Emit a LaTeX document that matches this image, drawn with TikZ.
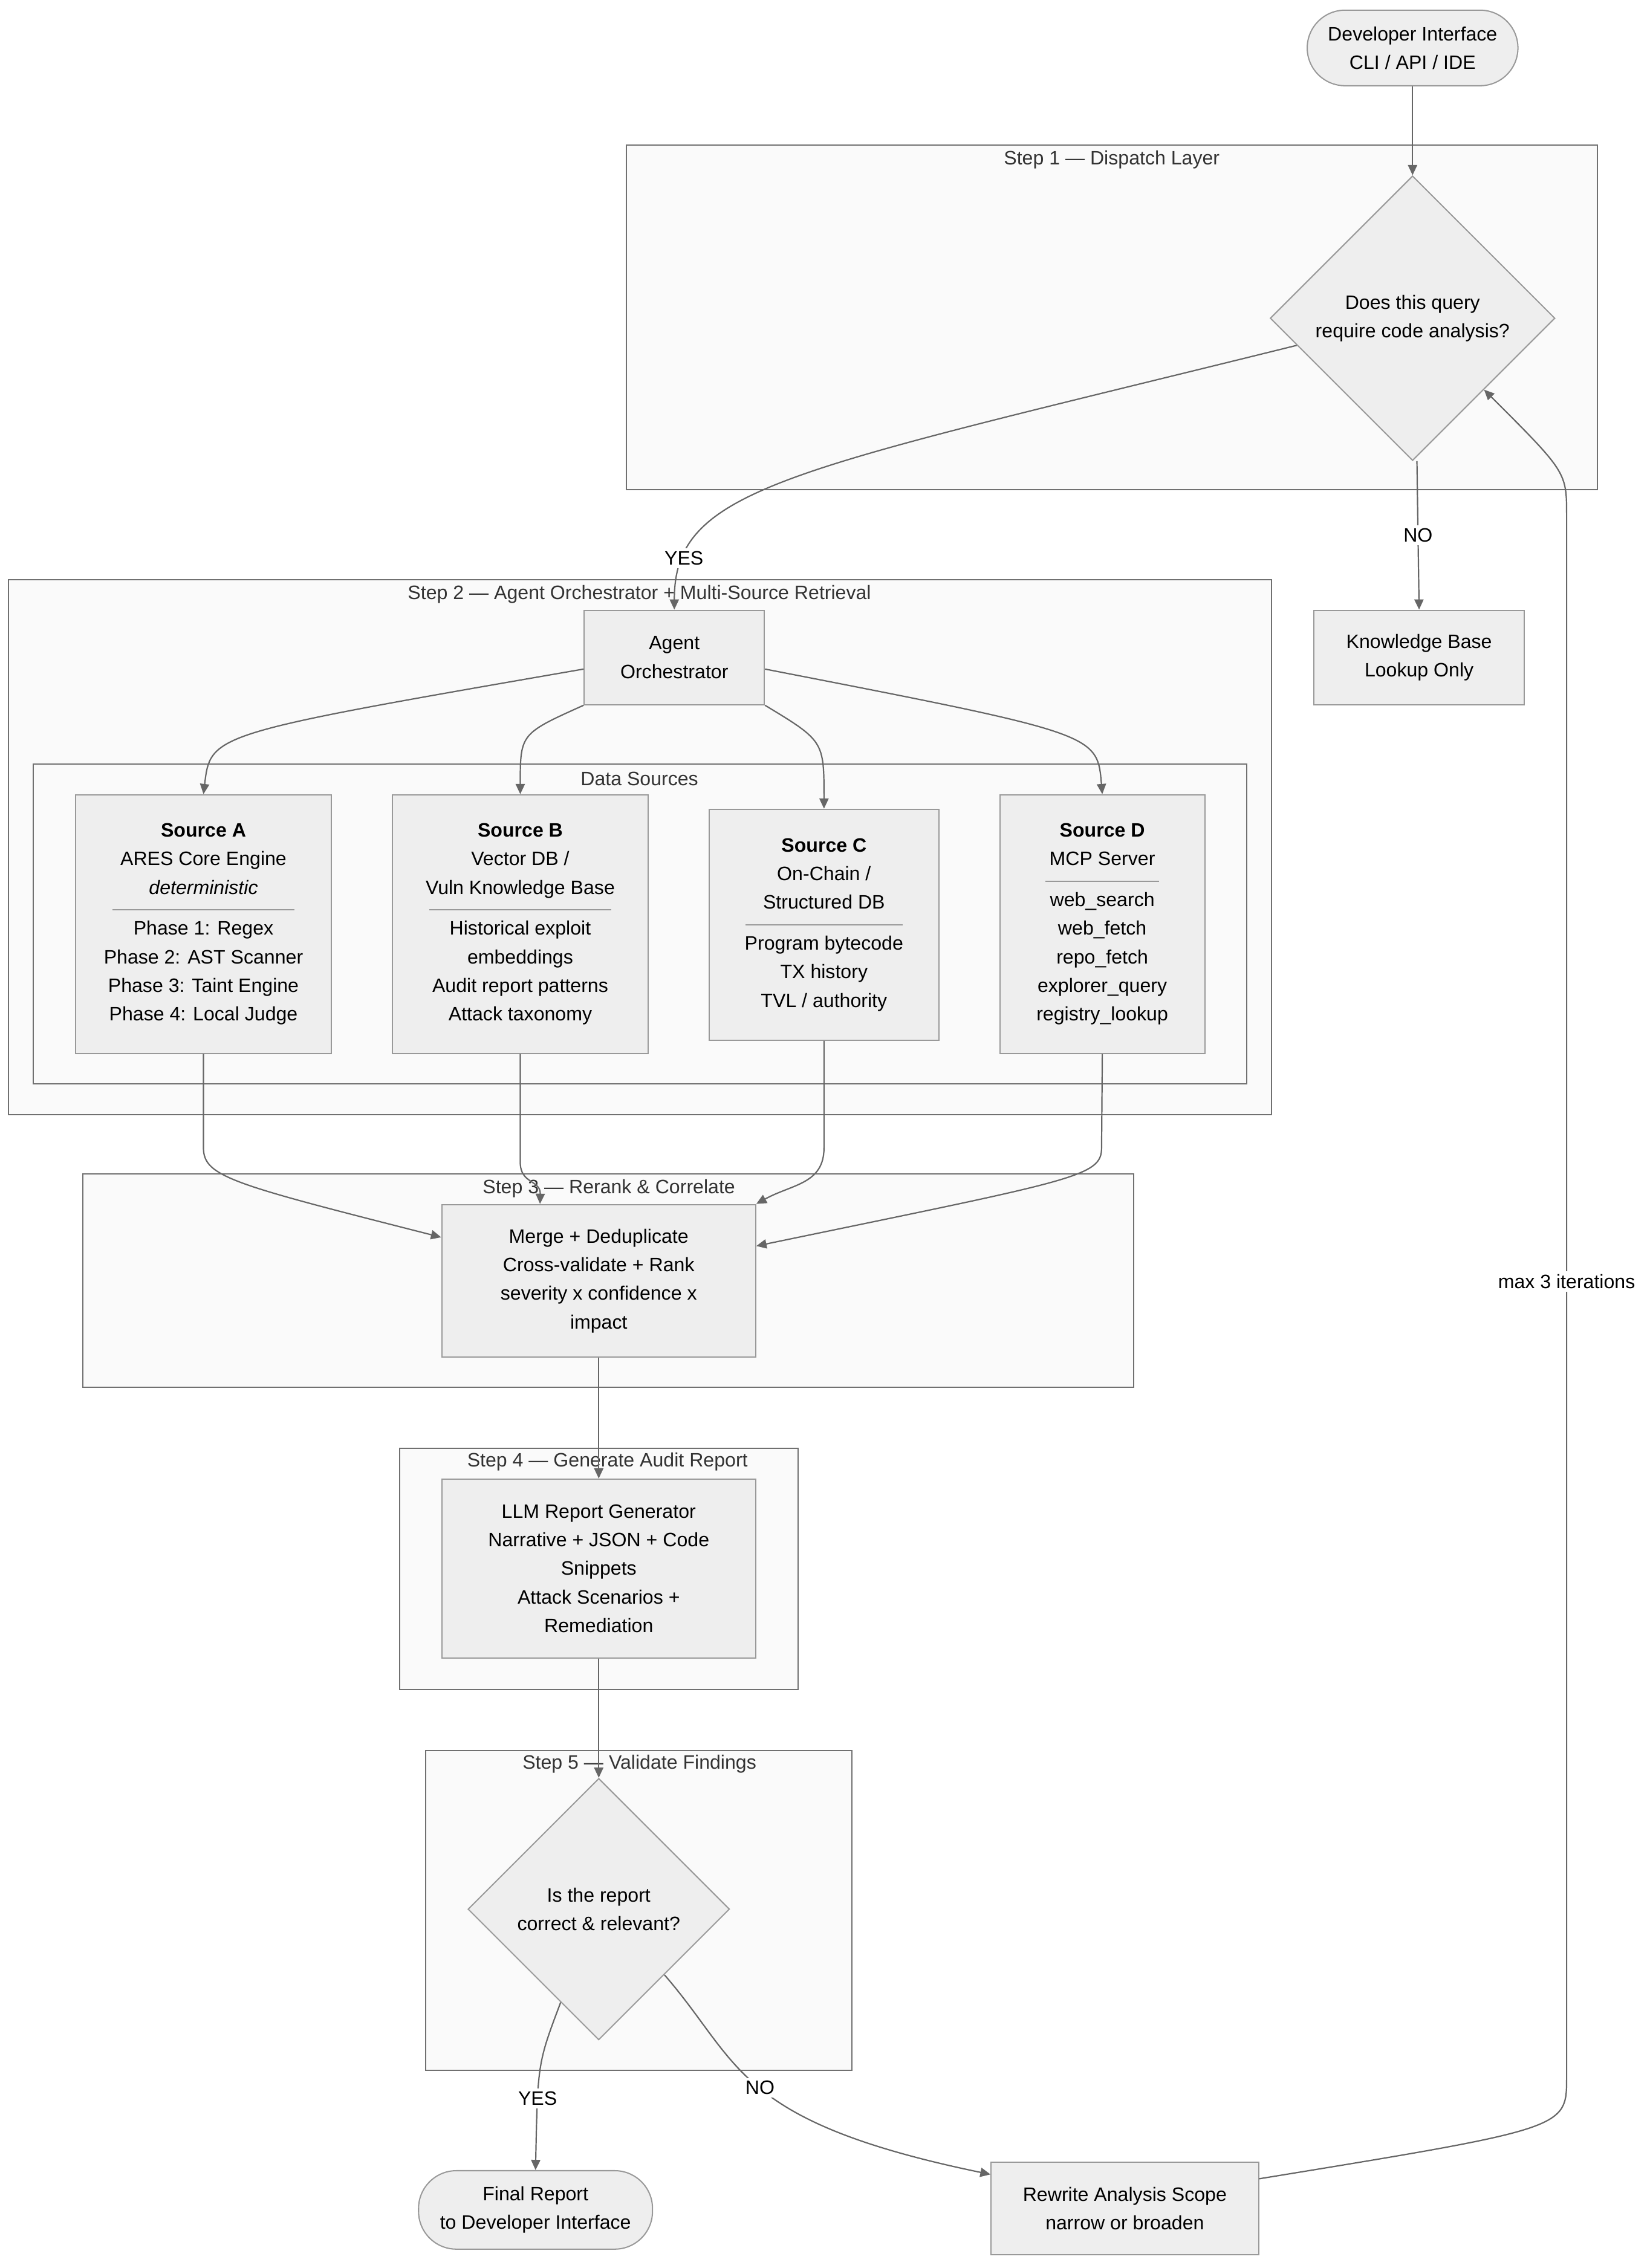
\documentclass[tikz,border=0pt]{standalone}
\usepackage{fontspec}
\setmainfont{Liberation Sans}
\usetikzlibrary{shapes.geometric,calc,arrows.meta}
\definecolor{nfill}{HTML}{EEEEEE}
\definecolor{nline}{HTML}{999999}
\definecolor{cfill}{HTML}{FAFAFA}
\definecolor{cline}{HTML}{707070}
\definecolor{eline}{HTML}{666666}
\begin{document}
\begin{tikzpicture}[x=0.05cm,y=-0.05cm,
  every node/.style={font=\fontsize{19}{28}\selectfont, text=black},
  box/.style={draw=nline,fill=nfill,line width=1.2pt,align=center,inner sep=0pt},
  pill/.style={box,rounded corners=1.3cm},
  dia/.style={draw=nline,fill=nfill,line width=1.2pt,diamond,aspect=1,align=center,inner sep=0pt},
  clus/.style={draw=cline,fill=cfill,line width=1.2pt},
  clab/.style={text=black!80,anchor=center},
  edge/.style={draw=eline,line width=1.3pt,-{Triangle[length=10pt,width=9pt]}},
  elab/.style={fill=white,inner sep=3pt}]
\useasboundingbox (0,0) rectangle (1135,1561);
\fill[white] (0,0) rectangle (1135,1561);
% clusters
\draw[clus] (431,100) rectangle (1099,337);
\node[clab] (c1) at (765,110) {Step 1 — Dispatch Layer};
\draw[clus] (6,399) rectangle (875,767);
\node[clab] (c2) at (440,409) {Step 2 — Agent Orchestrator + Multi-Source Retrieval};
\draw[clus] (23,526) rectangle (858,746);
\node[clab] (c2b) at (440,536) {Data Sources};
\draw[clus] (57,808) rectangle (780,955);
\draw[clus] (275,997) rectangle (549,1163);
\draw[clus] (293,1205) rectangle (586,1425);
% nodes
\node[pill,minimum width=7.25cm,minimum height=2.6cm] (dev) at (972,33) {Developer Interface\\CLI / API / IDE};
\node[dia,minimum width=9.8cm,minimum height=9.8cm] (d1) at (972,219) {Does this query\\require code analysis?};
\node[box,minimum width=6.2cm,minimum height=3.25cm] (ag) at (464,452.5) {Agent\\Orchestrator};
\node[box,minimum width=7.25cm,minimum height=3.25cm] (kb) at (976.5,452.5) {Knowledge Base\\Lookup Only};
\node[box,minimum width=8.8cm,minimum height=8.9cm] (sa) at (140,636) {\textbf{Source A}\\ARES Core Engine\\\textit{deterministic}\\[-8pt]{\color{nline}\rule[0.4ex]{6.25cm}{1pt}}\\[-8pt]Phase 1: Regex\\Phase 2: AST Scanner\\Phase 3: Taint Engine\\Phase 4: Local Judge};
\node[box,minimum width=8.8cm,minimum height=8.9cm] (sb) at (358,636) {\textbf{Source B}\\Vector DB /\\Vuln Knowledge Base\\[-8pt]{\color{nline}\rule[0.4ex]{6.25cm}{1pt}}\\[-8pt]Historical exploit\\embeddings\\Audit report patterns\\Attack taxonomy};
\node[box,minimum width=7.9cm,minimum height=7.95cm] (sc) at (567,636.5) {\textbf{Source C}\\On-Chain /\\Structured DB\\[-8pt]{\color{nline}\rule[0.4ex]{5.4cm}{1pt}}\\[-8pt]Program bytecode\\TX history\\TVL / authority};
\node[box,minimum width=7.05cm,minimum height=8.9cm] (sd) at (758.5,636) {\textbf{Source D}\\MCP Server\\[-8pt]{\color{nline}\rule[0.4ex]{3.9cm}{1pt}}\\[-8pt]web\_search\\web\_fetch\\repo\_fetch\\explorer\_query\\registry\_lookup};
\node[box,minimum width=10.8cm,minimum height=5.25cm] (mg) at (412,881.5) {Merge + Deduplicate\\Cross-validate + Rank\\severity x confidence x\\impact};
\node[box,minimum width=10.8cm,minimum height=6.15cm] (llm) at (412,1079.5) {LLM Report Generator\\Narrative + JSON + Code\\Snippets\\Attack Scenarios +\\Remediation};
\node[dia,minimum width=9cm,minimum height=9cm] (d5) at (412,1314) {Is the report\\correct \& relevant?};
\node[pill,minimum width=8.05cm,minimum height=2.7cm] (fin) at (368.5,1521) {Final Report\\to Developer Interface};
\node[box,minimum width=9.2cm,minimum height=3.2cm] (rw) at (774,1520) {Rewrite Analysis Scope\\narrow or broaden};
% cluster labels over edges
\node[clab] (c3) at (419,818) {Step 3 — Rerank \& Correlate};
\node[clab] (c4) at (418,1006) {Step 4 — Generate Audit Report};
\node[clab] (c5) at (440,1214) {Step 5 — Validate Findings};
% edges
\draw[edge] (dev.south) -- (d1.north);
\draw[edge] ($(d1.west)!0.19!(d1.south)$) .. controls (540,325) and (464,335) .. (ag.north) node[elab,pos=0.84] (ly1) {YES};
\draw[edge] ($(d1.south)+(3,0)$) -- (kb.north) node[elab,midway] (ln1) {NO};
\draw[edge] ($(ag.west)+(0,8)$) .. controls (145,505) .. (sa.north);
\draw[edge] (ag.south west) .. controls (358,505) .. (sb.north);
\draw[edge] (ag.south east) .. controls (567,510) .. (sc.north);
\draw[edge] ($(ag.east)+(0,8)$) .. controls (755,505) .. (sd.north);
\draw[edge] (sa.south) -- (140,790) .. controls (140,810) and (160,815) .. ($(mg.north west)+(0,23)$);
\draw[edge] (sb.south) -- (358,800) .. controls (358,815) and (372,812) .. ($(mg.north west)+(68,0)$);
\draw[edge] (sc.south) -- (567,790) .. controls (567,815) and (545,815) .. (mg.north east);
\draw[edge] (sd.south) -- (758,790) .. controls (758,810) and (740,812) .. ($(mg.north east)+(0,29)$);
\draw[edge] (mg.south) -- (llm.north);
\draw[edge] (llm.south) -- (d5.north);
\draw[edge] ($(d5.south)!0.29!(d5.west)$) .. controls (370,1420) .. (fin.north) node[elab,pos=0.7] (ly2) {YES};
\draw[edge] ($(d5.south)!0.5!(d5.east)$) .. controls (510,1420) and (505,1460) .. ($(rw.north west)+(0,9)$) node[elab,pos=0.5] (ln2) {NO};
\draw[edge] ($(rw.north east)+(0,12)$) .. controls (1078,1465) .. (1078,1430) -- (1078,355) .. controls (1078,325) .. ($(d1.east)!0.5!(d1.south)$);
\node[elab] (mx) at (1078,882) {max 3 iterations};
\end{tikzpicture}
\end{document}
